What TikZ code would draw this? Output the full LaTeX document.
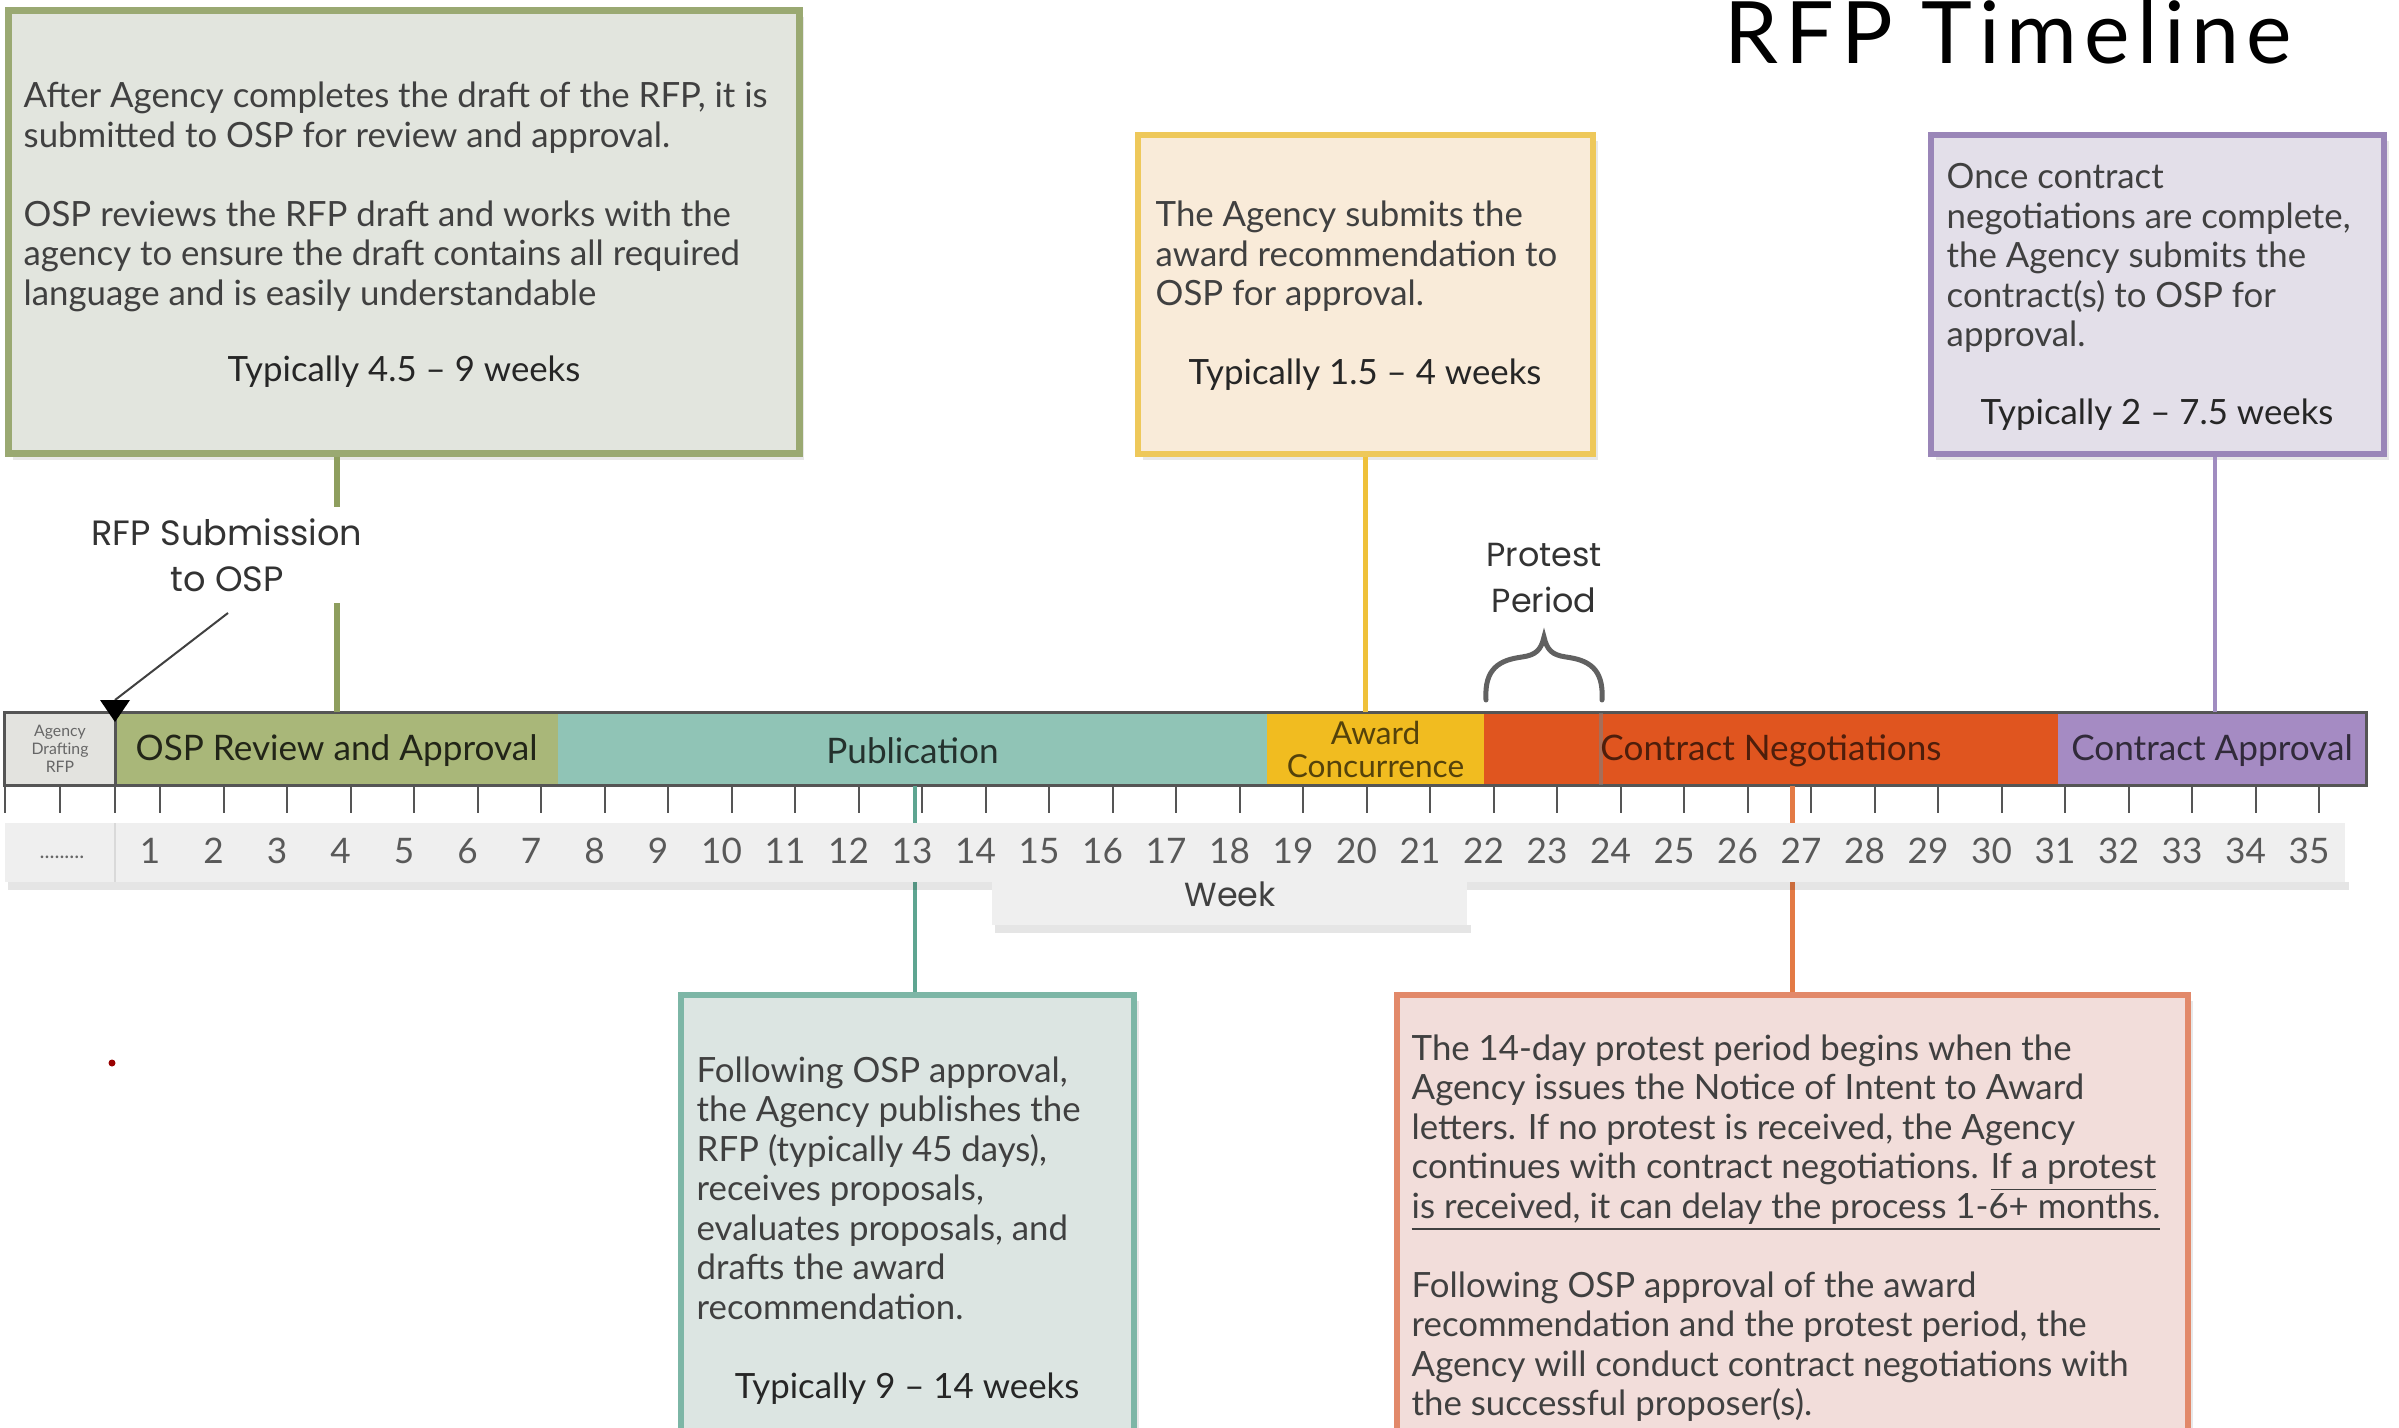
\documentclass[tikz,border=0pt]{standalone}
\usepackage{fontspec}
\setmainfont{Lato}
\newfontfamily\geofont{Poppins}
\newfontfamily\titlefont{Lato}[LetterSpace=8]
\usetikzlibrary{fit,shadows}

% palette
\definecolor{txtgray}{HTML}{404040}
\definecolor{olvLine}{HTML}{9AA972}
\definecolor{olvFill}{HTML}{E2E5DE}
\definecolor{olvBar}{HTML}{A9B779}
\definecolor{olvLink}{HTML}{8E9E5E}
\definecolor{tealLine}{HTML}{7DB6A6}
\definecolor{tealFill}{HTML}{DCE5E2}
\definecolor{tealBar}{HTML}{90C4B6}
\definecolor{tealLink}{HTML}{5EA591}
\definecolor{yelLine}{HTML}{EEC85A}
\definecolor{yelFill}{HTML}{F9EBD9}
\definecolor{yelBar}{HTML}{F1BC20}
\definecolor{yelLink}{HTML}{EFC13A}
\definecolor{orgLine}{HTML}{E2896A}
\definecolor{orgFill}{HTML}{F2DDDA}
\definecolor{orgBar}{HTML}{E0551F}
\definecolor{orgLink}{HTML}{E37A45}
\definecolor{purLine}{HTML}{9A86B8}
\definecolor{purFill}{HTML}{E3DFE9}
\definecolor{purBar}{HTML}{A58BC3}
\definecolor{purLink}{HTML}{A08CC0}
\definecolor{agFill}{HTML}{E3E3DF}
\definecolor{stripFill}{HTML}{EFEFEF}
\definecolor{rule}{HTML}{555555}

\newcommand\bodyf{\fontsize{9.9}{12}\selectfont}
\newcommand\ul[1]{\underline{#1}}

% one base-aligned node per text line, 39.5 units apart
\newcommand\paralines[4]{%
  \foreach \ln [count=\k] in {#4}{%
    \node[bodytxt] (#1\k) at ({#2},{#3+39.5*(\k-1)}) {\ln};}}

\begin{document}
\begin{tikzpicture}[x=0.1mm,y=-0.1mm,
  infobox/.style n args={2}{draw=#1, fill=#2, line width=0.6mm, inner sep=0pt,
    drop shadow={shadow xshift=0.5mm, shadow yshift=-0.6mm, opacity=0.18}},
  seg/.style={inner sep=0pt, fill=#1},
  barlbl/.style={inner sep=0pt, font=\fontsize{10}{12}\selectfont},
  bodytxt/.style={anchor=base west, inner sep=0pt, font=\bodyf, text=txtgray},
  typtxt/.style={anchor=base, inner sep=0pt, font=\bodyf, text=black!85},
  numtxt/.style={anchor=base, inner sep=0pt, font=\fontsize{10}{12}\selectfont, text=black!65},
  link/.style={line width=0.45mm},
  tick/.style={draw=rule, line width=0.2mm}]

\useasboundingbox (0,0) rectangle (2399,1428);
\clip (0,0) rectangle (2399,1428);
\fill[white] (0,0) rectangle (2399,1428);

% title
\node[anchor=base west, inner sep=0pt, font=\titlefont\fontsize{24.5}{30}\selectfont] (title) at (1724,64) {RFP Timeline};

% description boxes
\node[infobox={olvLine}{olvFill}, line width=0.7mm, fit={(8,11) (799,454)}] (gbox) {};
\node[infobox={yelLine}{yelFill}, fit={(1138,135) (1593,454)}] (ybox) {};
\node[infobox={purLine}{purFill}, fit={(1931,135) (2384,454)}] (pbox) {};
\node[infobox={tealLine}{tealFill}, fit={(681,995) (1134,1470)}] (tbox) {};
\node[infobox={orgLine}{orgFill}, fit={(1397,995) (2188,1470)}] (obox) {};

% timeline bar segments
\node[seg=agFill,  fit={(5,713) (115,785)}]    (agency) {};
\node[seg=olvBar,  fit={(115,713) (558,785)}]  (osp) {};
\node[seg=tealBar, fit={(558,713) (1267,785)}] (pub) {};
\node[seg=yelBar,  fit={(1267,713) (1484,785)}] (award) {};
\node[seg=orgBar,  fit={(1484,713) (2058,785)}] (neg) {};
\node[seg=purBar,  fit={(2058,713) (2366,785)}] (capp) {};
\draw[rule, line width=0.25mm] (agency.north west) rectangle (capp.south east);
\draw[rule, line width=0.25mm] (agency.north east) -- (agency.south east);
\draw[gray, opacity=0.6, line width=0.35mm] (1601,713) -- (1601,785);

% connectors from boxes to the bar
\draw[link, olvLink, line width=0.6mm] (osp.north) -- (osp.north |- gbox.south);
\draw[link, yelLink] (ybox.south) -- (ybox.south |- award.north);
\draw[link, purLink] (capp.north -| 2215,0) -- (pbox.south -| 2215,0);
\draw[link, tealLink] (pub.south -| 915,0) -- (tbox.north -| 915,0);
\draw[link, orgLink] (obox.north) -- (obox.north |- neg.south);

% week ticks
\draw[tick] (5,713) -- (5,813);
\foreach \tx in {60,115} \draw[tick] (\tx,785) -- (\tx,813);
\foreach \n in {0,...,34} \draw[tick] ({160+63.5*\n},785) -- ++(0,28);

% week number strip
\fill[black, opacity=0.10] (8,882) rectangle (2349,890);
\fill[black, opacity=0.10] (995,925) rectangle (1471,933);
\node[seg=stripFill, fit={(5,823) (2345,882)}] (strip) {};
\node[seg=stripFill, fit={(992,870) (1467,925)}] (weekbox) {};
\draw[black!15, line width=0.25mm] (115,823) -- (115,882);
\node[inner sep=0pt, font=\fontsize{6}{7}\selectfont, text=black!60] (dots) at (62,857) {.........};
\foreach \n in {1,...,35}
  \node[numtxt] (wk\n) at ({150+63.5*(\n-1)},863) {\n};
\node[anchor=base, inner sep=0pt, font=\geofont\fontsize{9.5}{11}\selectfont, text=black!75] (week) at (1230,906) {Week};

% bar labels
\node[inner sep=0pt, align=center, font=\fontsize{4.5}{5.2}\selectfont, text=black!60] (agL) at (agency.center) {Agency\\Drafting\\RFP};
\node[barlbl, text=black!80!olvBar] (ospL) at ([yshift=-0.2mm]osp.center) {OSP Review and Approval};
\node[barlbl, text=black!75!tealBar] (pubL) at ([yshift=-0.2mm]pub.center) {Publication};
\node[barlbl, align=center, font=\fontsize{9}{9.4}\selectfont, text=black!65!yelBar] (awL) at (award.center) {Award\\Concurrence};
\node[barlbl, text=black!65!orgBar] (negL) at ([yshift=-0.2mm]neg.center) {Contract Negotiations};
\node[barlbl, text=black!70!purBar] (capL) at ([yshift=-0.2mm]capp.center) {Contract Approval};

% box texts
\paralines{gl}{23}{108}{{After Agency completes the draft of the RFP, it is}, submitted to OSP for review and approval., {}, OSP reviews the RFP draft and works with the, agency to ensure the draft contains all required, language and is easily understandable}
\node[typtxt] (gtyp) at (404,382) {Typically 4.5 -- 9 weeks};

\paralines{yl}{1155}{227}{The Agency submits the, award recommendation to, OSP for approval.}
\node[typtxt] (ytyp) at (1365,385) {Typically 1.5 -- 4 weeks};

\paralines{pl}{1946}{189}{Once contract, {negotiations are complete,}, the Agency submits the, contract(s) to OSP for, approval.}
\node[typtxt] (ptyp) at (2157,425) {Typically 2 -- 7.5 weeks};

\paralines{tl}{696}{1082}{{Following OSP approval,}, the Agency publishes the, {RFP (typically 45 days),}, {receives proposals,}, {evaluates proposals, and}, drafts the award, recommendation.}
\node[typtxt] (ttyp) at (907,1398) {Typically 9 -- 14 weeks};

\paralines{ol}{1411}{1060}{The 14-day protest period begins when the, Agency issues the Notice of Intent to Award, {letters. If no protest is received, the Agency}, continues with contract negotiations. \ul{If a protest}, {\ul{is received, it can delay the process 1-6+ months.}}, {}, Following OSP approval of the award, {recommendation and the protest period, the}, Agency will conduct contract negotiations with, the successful proposer(s).}

% submission marker
\node[fill=white, inner sep=1.2mm, align=center, font=\geofont\fontsize{10}{13}\selectfont, text=black!80] (subL) at (227,555) {RFP Submission\\to OSP};
\coordinate (subm) at (115,700);
\draw[black!75, line width=0.2mm] (228,613) -- (subm);
\fill[black] (subm) ++(-15,0) -- ++(30,0) -- ++(-15,22) -- cycle;

% protest period brace
\node[inner sep=0pt, align=center, font=\geofont\fontsize{9.5}{13}\selectfont, text=black!80] (protL) at (1544,578) {Protest\\Period};
\draw[black!62, line width=0.5mm, line cap=round]
  (1486,700) .. controls (1484,668) and (1500,660) .. (1522,657)
  .. controls (1536,655) and (1541,650) .. (1544,637)
  .. controls (1547,650) and (1552,655) .. (1566,657)
  .. controls (1588,660) and (1604,668) .. (1602,700);

% stray mark
\fill[red!60!black] (112,1063) circle (0.35mm);
\end{tikzpicture}
\end{document}
